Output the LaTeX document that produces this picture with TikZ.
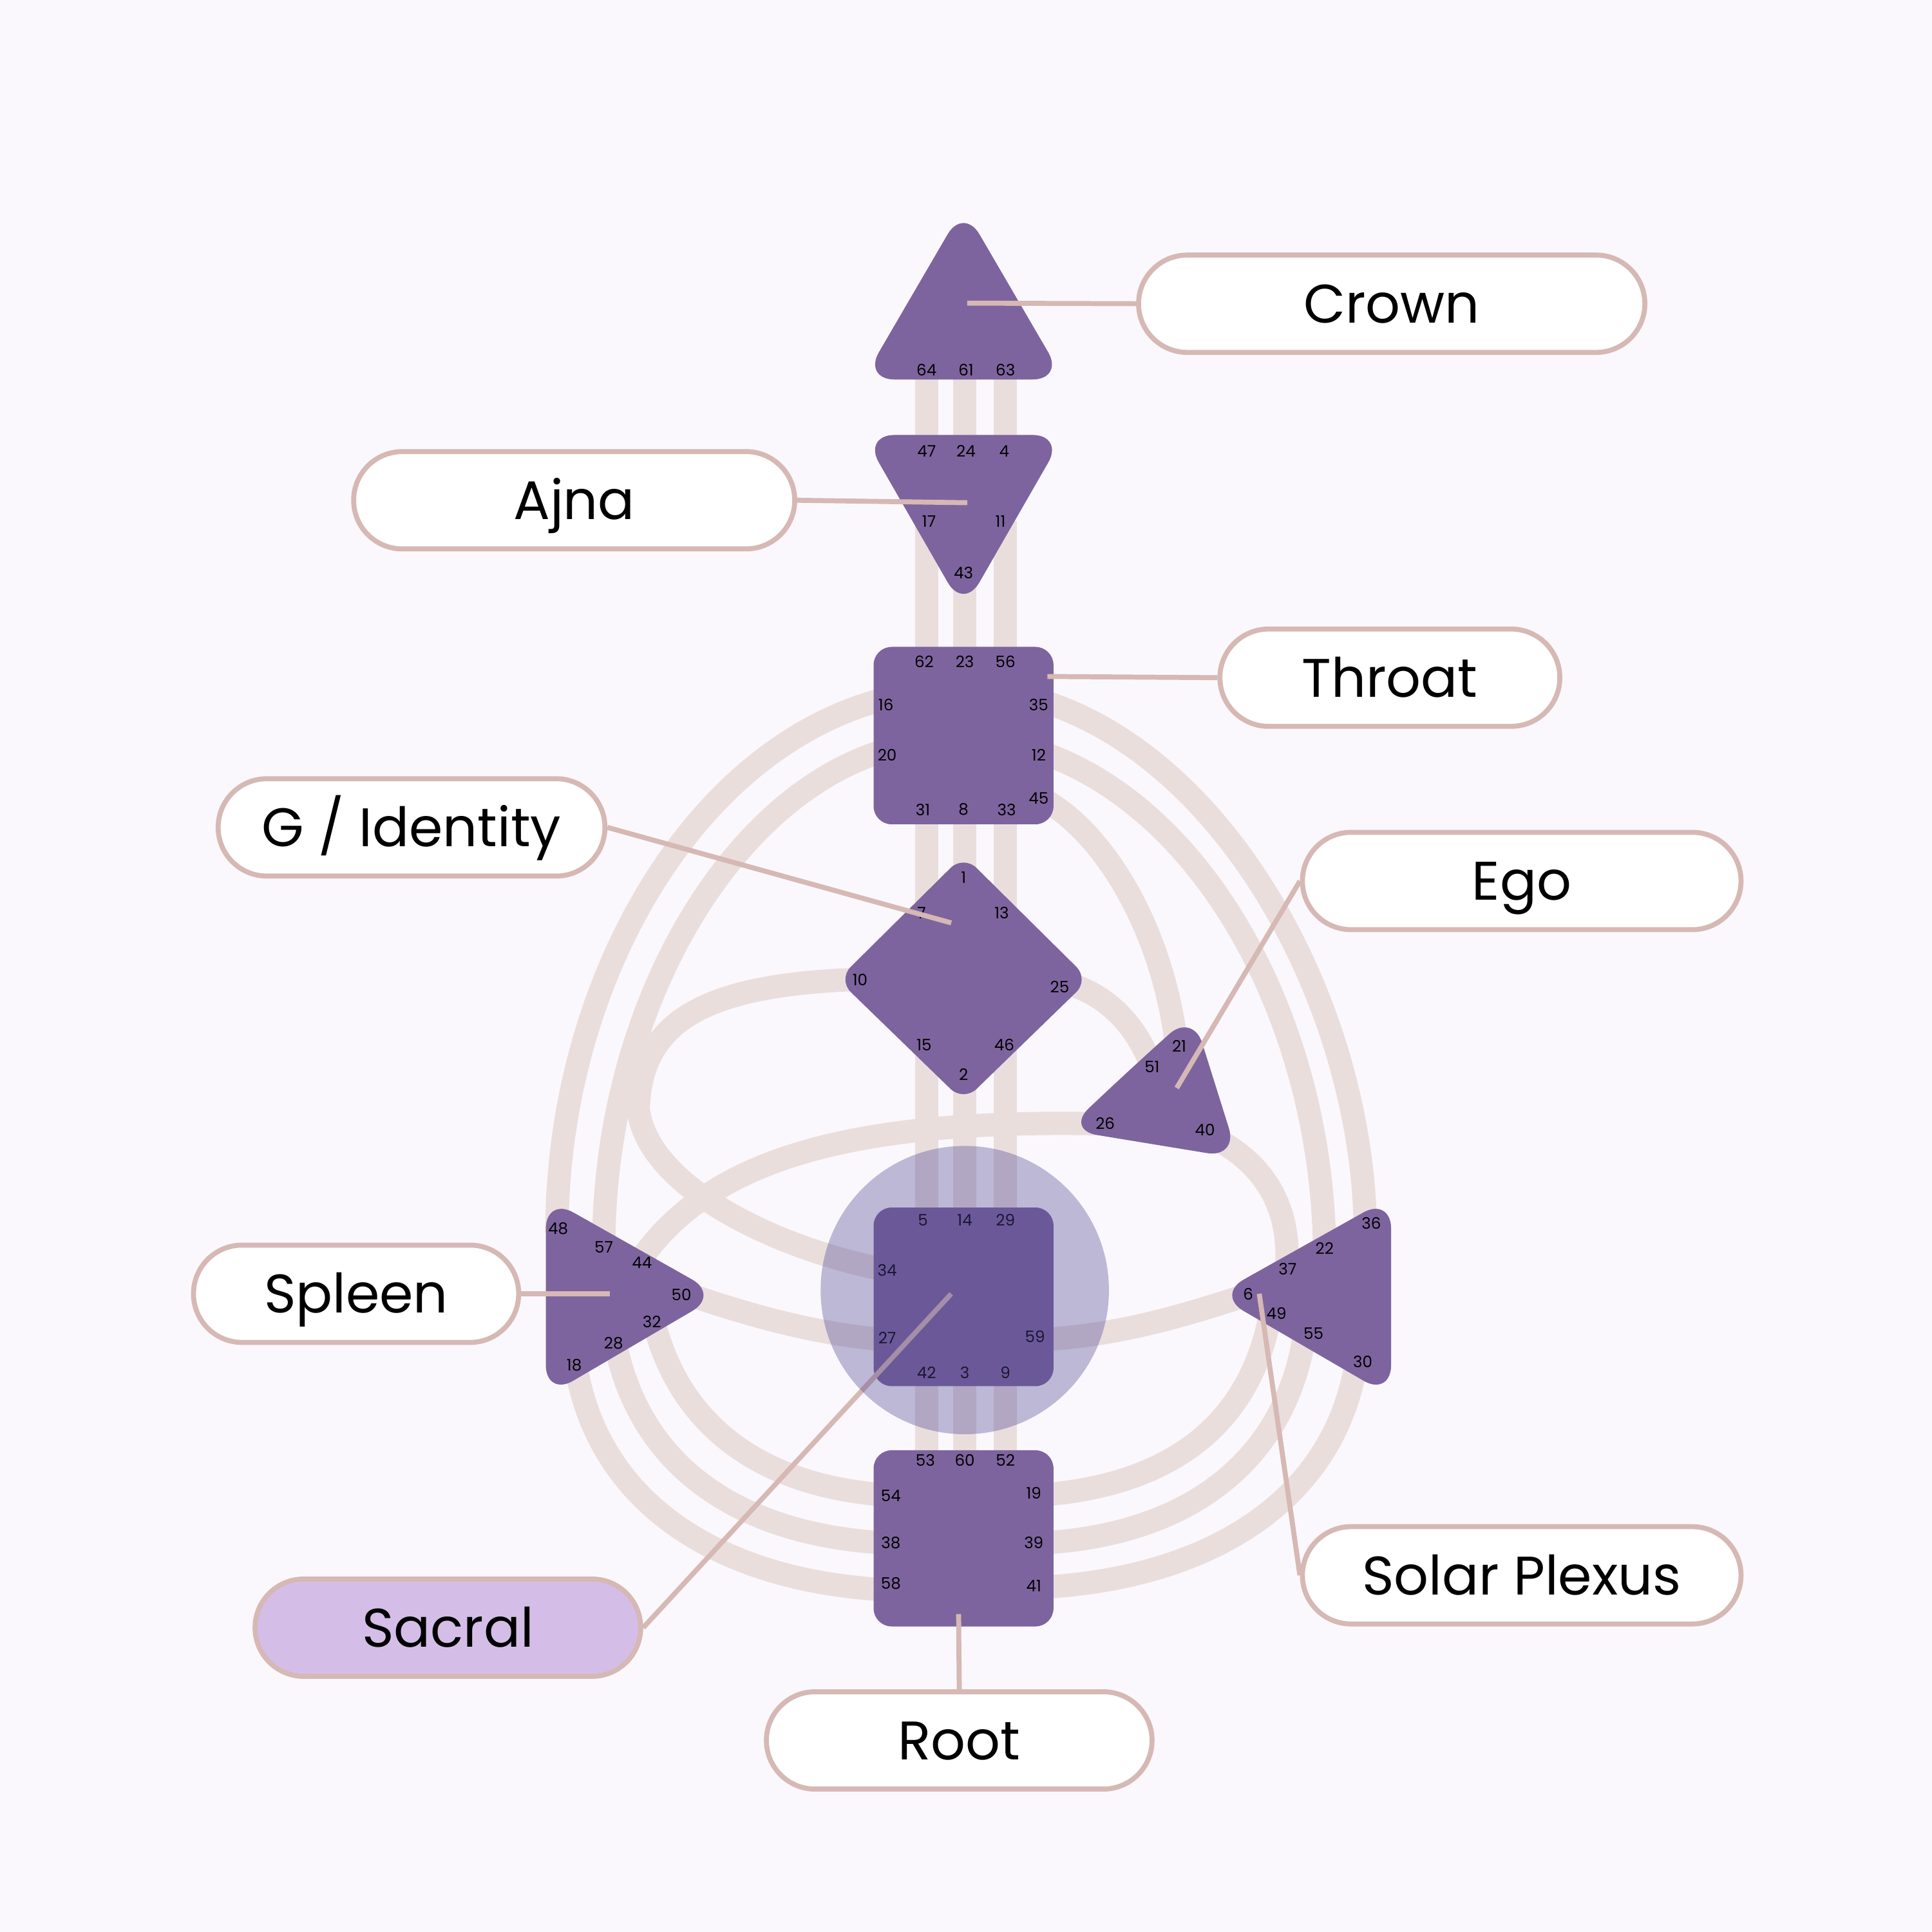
\documentclass[tikz,border=0pt]{standalone}
\usepackage{fontspec}
\setmainfont{Poppins}
\definecolor{bg}{RGB}{250,248,252}
\definecolor{chan}{RGB}{234,222,221}
\definecolor{cpurple}{RGB}{126,100,158}
\definecolor{leaderc}{RGB}{214,184,180}
\definecolor{sacralfill}{RGB}{212,190,232}
\definecolor{glow}{RGB}{74,66,144}
\tikzset{
	channel/.style={draw=chan, line width=10.3pt},
	centerbox/.style={fill=cpurple, rounded corners=8pt},
	tribox/.style={fill=cpurple, rounded corners=14pt},
	gate/.style={font=\fontsize{7}{8}\selectfont, inner sep=0pt},
	namebox/.style={draw=leaderc, line width=2.2pt, fill=white, rounded corners=21.5pt,
		minimum height=43pt, inner sep=0pt, text height=17pt, text depth=0pt,
		font=\fontsize{24}{28}\selectfont},
	leaderline/.style={draw=leaderc, line width=2.2pt}
}
\begin{document}
\begin{tikzpicture}[x=0.019133cm,y=-0.019133cm]
	\fill[bg] (0,0) rectangle (1568,1568);
	\useasboundingbox (0,0) rectangle (1568,1568);
	\foreach \n/\x/\y in {64/752/300, 61/783/300, 63/816/300, 47/752/366, 24/783/366, 4/816/366,
		17/752/423, 43/783/465, 11/816/423, 62/752/537, 23/783/537, 56/816/537,
		31/752/657, 8/783/657, 33/816/657, 7/752/741, 1/783/712, 13/816/741,
		15/752/848, 2/783/872, 46/816/848, 5/752/990, 14/783/990, 29/816/990,
		42/752/1114, 3/783/1114, 9/816/1114, 53/752/1185, 60/783/1185, 52/816/1185,
		16/715/568, 20/715/610, 35/849/570, 12/849/612, 45/849/650, 10/692/795, 25/872/800,
		21/955/850, 51/935/866, 26/892/912, 40/982/922,
		48/452/1000, 57/490/1012, 44/516/1028, 50/560/1051, 32/532/1078, 28/500/1093, 18/468/1112,
		36/1108/995, 22/1075/1012, 37/1044/1030, 6/1012/1051, 49/1030/1072, 55/1058/1088, 30/1100/1110,
		34/715/1030, 27/715/1087, 59/849/1087,
		54/715/1213, 38/715/1252, 58/715/1290, 19/849/1213, 39/849/1252, 41/849/1288}
		\coordinate (g\n) at (\x,\y);
	\foreach \a/\b in {64/47, 61/24, 63/4, 17/62, 43/23, 11/56, 31/7, 8/1, 33/13,
		15/5, 2/14, 46/29, 42/53, 3/60, 9/52}
		\draw[channel] (g\a) -- (g\b);
	\draw[channel] (g16) .. controls (560,610) and (452,800) .. (g48);
	\draw[channel] (g20) .. controls (590,650) and (490,820) .. (g57);
	\draw[channel] (g10) .. controls (570,800) and (520,830) .. (518,900) .. controls (525,960) and (620,1010) .. (g34);
	\draw[channel] (g26) .. controls (680,908) and (570,945) .. (g44);
	\draw[channel] (g50) .. controls (610,1068) and (660,1082) .. (g27);
	\draw[channel] (g59) .. controls (910,1083) and (960,1068) .. (g6);
	\draw[channel] (g25) .. controls (900,810) and (922,832) .. (g51);
	\draw[channel] (g45) .. controls (900,680) and (945,760) .. (g21);
	\draw[channel] (g35) .. controls (1000,620) and (1105,820) .. (g36);
	\draw[channel] (g12) .. controls (980,660) and (1072,830) .. (g22);
	\draw[channel] (g40) .. controls (1030,945) and (1048,985) .. (g37);
	\draw[channel] (g32) .. controls (555,1160) and (620,1205) .. (g54);
	\draw[channel] (g28) .. controls (522,1195) and (605,1245) .. (g38);
	\draw[channel] (g18) .. controls (488,1222) and (585,1282) .. (g58);
	\draw[channel] (g49) .. controls (1010,1165) and (940,1205) .. (g19);
	\draw[channel] (g55) .. controls (1040,1190) and (960,1245) .. (g39);
	\draw[channel] (g30) .. controls (1080,1220) and (980,1280) .. (g41);
	\fill[tribox] (782,308) -- (863.6,308) -- (782,168) -- (700.4,308) -- cycle;
	\fill[tribox] (782,353) -- (863.6,353) -- (782,495) -- (700.4,353) -- cycle;
	\fill[centerbox] (709,525) rectangle (855,669);
	\fill[centerbox] (731,744.5) -- (782,694) -- (884,795) -- (782,894) -- (680,795) -- cycle;
	\fill[tribox] (916,869) -- (968,822) -- (1005,940) -- (865,917) -- cycle;
	\fill[tribox] (443,1051) -- (443,971.4) -- (584,1051) -- (443,1133.6) -- cycle;
	\fill[tribox] (1129,1051) -- (1129,1133.6) -- (987,1051) -- (1129,971.4) -- cycle;
	\fill[centerbox] (709,980) rectangle (855,1125);
	\fill[centerbox] (709,1177) rectangle (855,1320);
	\foreach \n/\x/\y in {64/752/300, 61/784/300, 63/816/300,
		47/752/366, 24/784/366, 4/815/366, 17/754/423, 11/812/423, 43/782/465,
		62/750/537, 23/783/537, 56/816/537, 16/719/572, 20/720/613, 35/843/572, 12/843/613,
		45/843/648, 31/749/657, 8/782/657, 33/817/657,
		1/782/712, 7/748/741, 13/813/741, 10/698/795, 25/860/801, 15/750/848, 46/815/848, 2/782/872,
		21/957/849, 51/935/866, 26/897/912, 40/978/917,
		48/453/997, 57/490/1012, 44/521/1025, 50/553/1051, 32/529/1073, 28/498/1090, 18/466/1108,
		36/1113/993, 22/1075/1013, 37/1045/1030, 6/1013/1050, 49/1036/1066, 55/1066/1082, 30/1106/1105,
		5/749/990, 14/783/990, 29/816/990, 34/720/1031, 27/720/1086, 59/840/1085,
		42/752/1114, 3/783/1114, 9/816/1114,
		53/751/1185, 60/783/1185, 52/816/1185, 54/723/1214, 38/723/1252, 58/723/1285,
		19/839/1212, 39/839/1252, 41/839/1287}
		\node[gate] (n\n) at (\x,\y) {\n};
	\node[namebox, minimum width=223.7pt] (crownlbl) at (1129.5,246.5) {Crown};
	\node[namebox, minimum width=194.9pt] (ajnalbl) at (466,406) {Ajna};
	\node[namebox, minimum width=150.2pt] (throatlbl) at (1128,550) {Throat};
	\node[namebox, minimum width=170.9pt] (glbl) at (334,671.5) {G / Identity};
	\node[namebox, minimum width=193.8pt] (egolbl) at (1235,715) {Ego};
	\node[namebox, minimum width=143.7pt] (spleenlbl) at (289,1050) {Spleen};
	\node[namebox, minimum width=193.8pt] (solarlbl) at (1235,1278.5) {Solar Plexus};
	\node[namebox, minimum width=170.4pt, fill=sacralfill] (sacrallbl) at (363.5,1321) {Sacral};
	\node[namebox, minimum width=170.4pt] (rootlbl) at (778.5,1412.5) {Root};
	\coordinate (crownpt) at (785,246);
	\coordinate (ajnapt) at (785,408);
	\coordinate (throatpt) at (850,549);
	\coordinate (gpt) at (772,749);
	\coordinate (egopt) at (955,883);
	\coordinate (spleenpt) at (495,1050);
	\coordinate (solarpt) at (1022,1050);
	\coordinate (sacralpt) at (772,1050);
	\coordinate (rootpt) at (778,1310);
	\draw[leaderline] (crownlbl.west) -- (crownpt);
	\draw[leaderline] (ajnalbl.east) -- (ajnapt);
	\draw[leaderline] (throatlbl.west) -- (throatpt);
	\draw[leaderline] (glbl.east) -- (gpt);
	\draw[leaderline] (egolbl.west) -- (egopt);
	\draw[leaderline] (spleenlbl.east) -- (spleenpt);
	\draw[leaderline] (solarlbl.west) -- (solarpt);
	\draw[leaderline] (sacrallbl.east) -- (sacralpt);
	\draw[leaderline] (rootlbl.north) -- (rootpt);
	\fill[glow, opacity=0.35] (783,1047) circle (117);
\end{tikzpicture}
\end{document}
